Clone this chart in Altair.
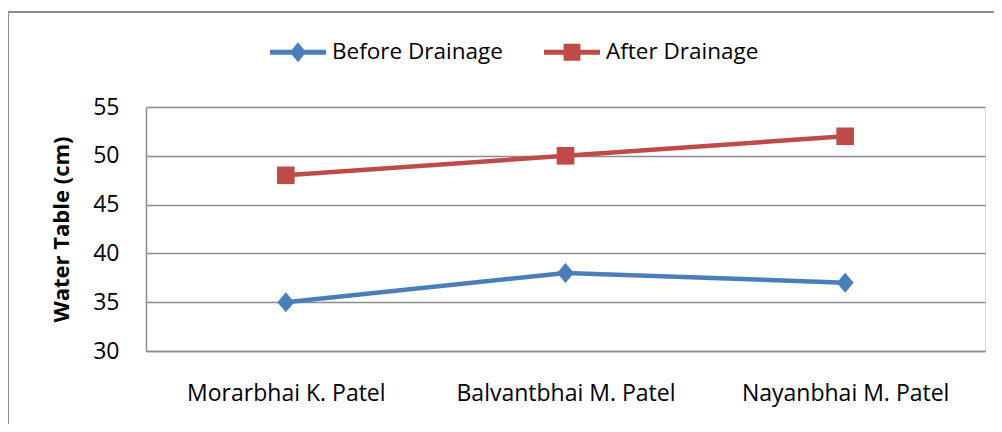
import altair as alt
import pandas as pd

categories = ["Morarbhai K. Patel", "Balvantbhai M. Patel", "Nayanbhai M. Patel"]
before_drainage = [35, 38, 37]
after_drainage = [48, 50, 52]
series_names = ["Before Drainage", "After Drainage"]
series_colors = ["#4A7EBB", "#BE4B48"]
y_ticks = [30, 35, 40, 45, 50, 55]

rows = []
for c, v in zip(categories, before_drainage):
    rows.append({"Farmer": c, "Series": series_names[0], "Value": v})
for c, v in zip(categories, after_drainage):
    rows.append({"Farmer": c, "Series": series_names[1], "Value": v})
df = pd.DataFrame(rows)

FONT = "Open Sans"
GRID = "#8c8c8c"

diamond_path = "M0,-1L0.85,0L0,1L-0.85,0Z"
square_path = "M-1,-1L1,-1L1,1L-1,1Z"
leg_diamond = "M-1,-0.09L1,-0.09L1,0.09L-1,0.09Z M0,-0.36L0.29,0L0,0.36L-0.29,0Z"
leg_square = "M-1,-0.09L1,-0.09L1,0.09L-1,0.09Z M-0.3,-0.3L0.3,-0.3L0.3,0.3L-0.3,0.3Z"

x_enc = alt.X(
    "Farmer:N",
    sort=categories,
    scale=alt.Scale(type="point", padding=0.5),
    axis=alt.Axis(
        title=None, labelAngle=0, ticks=False, grid=False,
        domainColor=GRID, domainWidth=1.5,
        labelFont=FONT, labelFontSize=23, labelColor="#000000",
        labelBaseline="middle", labelPadding=42, labelLimit=0,
    ),
)
y_enc = alt.Y(
    "Value:Q",
    scale=alt.Scale(domain=[30, 55], nice=False, zero=False),
    axis=alt.Axis(
        title="Water Table (cm)", values=y_ticks, ticks=False,
        grid=True, gridColor=GRID, gridWidth=1.5,
        domainColor=GRID, domainWidth=1.5,
        labelFont=FONT, labelFontSize=23, labelColor="#000000", labelPadding=27,
        titleFont=FONT, titleFontSize=22, titleFontWeight="bold", titleColor="#000000",
        titleX=-85, titleY=122, titleBaseline="middle", titleAngle=-90, titleLimit=0,
    ),
)

base = alt.Chart(df)
layers = []
marker_shapes = [diamond_path, square_path]
marker_sizes = [400, 310]
for name, col in zip(series_names, series_colors):
    layers.append(
        base.mark_line(strokeWidth=4.5, color=col)
        .encode(x=x_enc, y=y_enc)
        .transform_filter(alt.datum.Series == name)
    )
for name, col, shp, sz in zip(series_names, series_colors, marker_shapes, marker_sizes):
    layers.append(
        base.mark_point(filled=True, opacity=1, strokeWidth=0, color=col, shape=shp, size=sz)
        .encode(x=x_enc, y=y_enc)
        .transform_filter(alt.datum.Series == name)
    )

legend = alt.Legend(
    title=None, orient="none", legendX=124, legendY=-83, direction="horizontal",
    labelFont=FONT, labelFontSize=22.5, labelColor="#000000", labelOffset=6, labelLimit=0,
    symbolSize=3136, columnPadding=41, padding=0, symbolOpacity=1,
    symbolStrokeWidth=0,
)
legend_layer = base.mark_point(filled=True, opacity=0).encode(
    x=x_enc, y=y_enc,
    color=alt.Color("Series:N", sort=series_names,
                    scale=alt.Scale(domain=series_names, range=series_colors), legend=legend),
    shape=alt.Shape("Series:N", sort=series_names,
                    scale=alt.Scale(domain=series_names, range=[leg_diamond, leg_square]), legend=legend),
)

frame = alt.Chart(pd.DataFrame({"k": [0]})).mark_rect(
    fill="transparent", stroke="#8c8c8c", strokeWidth=2
).encode(
    x=alt.value(-138), x2=alt.value(870), y=alt.value(-95), y2=alt.value(340)
)

chart = alt.layer(frame, *layers, legend_layer).properties(
    width=839, height=244,
    autosize=alt.AutoSizeParams(type="none"),
    padding={"left": 138, "top": 99, "right": 9, "bottom": 73},
).configure_view(stroke=None).configure(background="white")

chart.save("out.html", embed_options={"renderer": "svg", "actions": False})
